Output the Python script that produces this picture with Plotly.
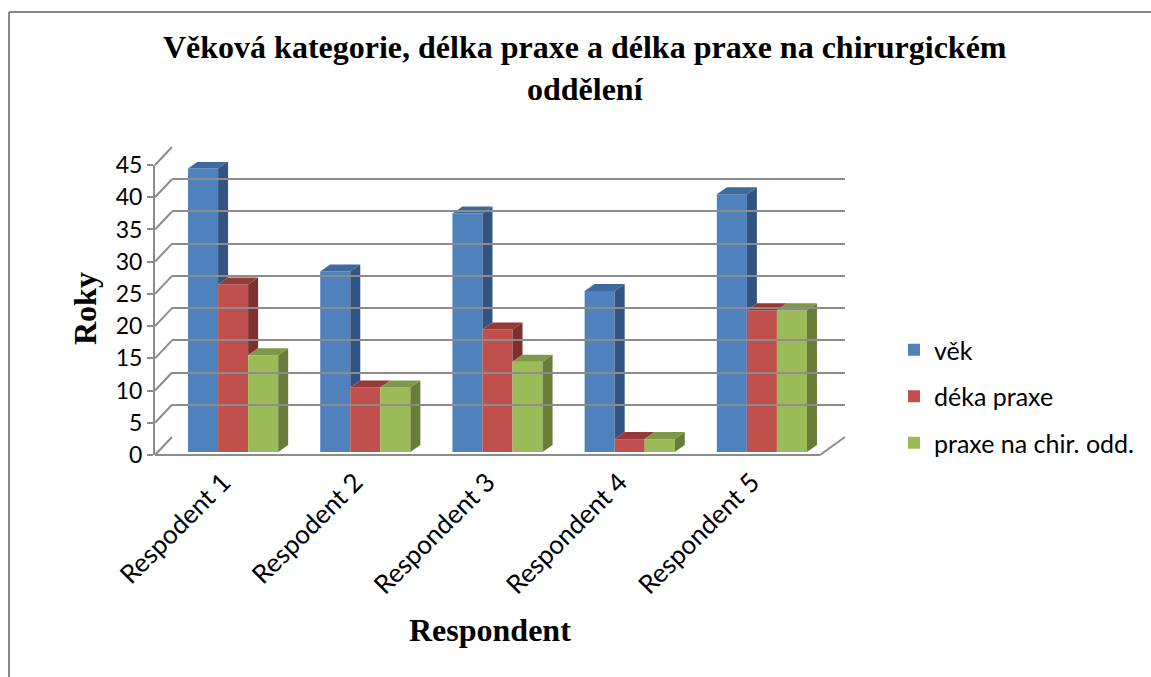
import plotly.graph_objects as go

# ---------------- data ----------------
categories = ["Respodent 1", "Respodent 2", "Respondent 3", "Respondent 4", "Respondent 5"]
series_names = ["věk", "déka praxe", "praxe na chir. odd."]
vek = [44, 28, 37, 25, 40]
deka_praxe = [26, 10, 19, 2, 22]
praxe_chir = [15, 10, 14, 2, 22]
y_ticks = [0, 5, 10, 15, 20, 25, 30, 35, 40, 45]

title_text = "Věková kategorie, délka praxe a délka praxe na chirurgickém<br>oddělení"
y_title = "Roky"
x_title = "Respondent"

# ---------------- style ----------------
W, H = 1151, 677
front_col = ["#4F81BD", "#C0504D", "#9BBB59"]
side_col = ["#335480", "#7D302E", "#677D3A"]
top_col = ["#3F6A9E", "#963A37", "#7D9947"]
grid_col = "#8C8C8C"
label_font = "Lato"
serif = "Liberation Serif"

def fx(p):
    return p / W

def fy(p):
    return 1 - p / H

# geometry of the pseudo-3D box (pixels)
FX0, FX1 = 155, 820      # front floor edge
BX0, BX1 = 172, 845      # back wall
FY0, FY1 = 455, 165      # front axis (0 .. 45)
BY0, BY1 = 437, 147      # back wall (0 .. 45)
BAR_X0, BAR_X1 = 167, 828
BAR_Y0, BAR_Y1 = 452, 162
LABEL_SHIFT_X = 10
LABEL_SHIFT_Y = 9
YMAX = 45
n = len(categories)
bar_w = 0.2273
px_per_xunit = (BAR_X1 - BAR_X0) / n
px_per_yunit = (BAR_Y0 - BAR_Y1) / YMAX
dx = 10 / px_per_xunit
dy = 7 / px_per_yunit

series = [vek, deka_praxe, praxe_chir]
fig = go.Figure()

# front faces
for i, (name, vals) in enumerate(zip(series_names, series)):
    fig.add_trace(go.Bar(
        x=list(range(n)), y=vals, name=name, width=bar_w,
        offset=(i - 1.5) * bar_w, marker=dict(color=front_col[i], line=dict(width=0)),
        legendgroup=name, xaxis="x", yaxis="y",
    ))

# side and top faces
for i, vals in enumerate(series):
    sx, sy, tx, ty = [], [], [], []
    for j, v in enumerate(vals):
        xl = j + (i - 1.5) * bar_w
        xr = j + (i - 0.5) * bar_w
        nv = series[i + 1][j] if i + 1 < len(series) else 0
        if v > nv:
            sx += [xr, xr + dx, xr + dx, xr, xr, None]
            sy += [nv, nv + dy, v + dy, v, nv, None]
        tx += [xl, xr, xr + dx, xl + dx, xl, None]
        ty += [v, v, v + dy, v + dy, v, None]
    fig.add_trace(go.Scatter(x=sx, y=sy, fill="toself", fillcolor=side_col[i], mode="lines",
                             line=dict(width=0), showlegend=False, hoverinfo="skip",
                             xaxis="x", yaxis="y"))
    fig.add_trace(go.Scatter(x=tx, y=ty, fill="toself", fillcolor=top_col[i], mode="lines",
                             line=dict(width=0), showlegend=False, hoverinfo="skip",
                             xaxis="x", yaxis="y"))

# helper traces so the wall / front / label axes are drawn
fig.add_trace(go.Scatter(x=[None], y=[None], xaxis="x2", yaxis="y2", showlegend=False))
fig.add_trace(go.Scatter(x=[None], y=[None], xaxis="x3", yaxis="y3", showlegend=False))
fig.add_trace(go.Scatter(x=[None], y=[None], xaxis="x4", yaxis="y", showlegend=False))

shapes = []
# diagonal connectors of gridlines
for v in y_ticks:
    yf = FY0 - v * (FY0 - FY1) / YMAX
    yb = BY0 - v * (BY0 - BY1) / YMAX
    shapes.append(dict(type="line", xref="paper", yref="paper",
                       x0=fx(FX0), y0=fy(yf), x1=fx(BX0), y1=fy(yb),
                       line=dict(color=grid_col, width=2)))
# floor front & right edges
shapes.append(dict(type="line", xref="paper", yref="paper", x0=fx(FX0), y0=fy(FY0),
                   x1=fx(FX1), y1=fy(FY0), line=dict(color=grid_col, width=2)))
shapes.append(dict(type="line", xref="paper", yref="paper", x0=fx(FX1), y0=fy(FY0),
                   x1=fx(BX1), y1=fy(BY0), line=dict(color=grid_col, width=2)))
# chart frame
shapes.append(dict(type="line", xref="paper", yref="paper", x0=fx(9), y0=fy(12),
                   x1=fx(W), y1=fy(12), line=dict(color="#868686", width=2)))
shapes.append(dict(type="line", xref="paper", yref="paper", x0=fx(9), y0=fy(12),
                   x1=fx(9), y1=fy(H + 5), line=dict(color="#868686", width=2)))

fig.update_layout(
    template="none",
    width=W, height=H,
    margin=dict(l=0, r=0, t=0, b=0, autoexpand=False),
    paper_bgcolor="white", plot_bgcolor="rgba(0,0,0,0)",
    barmode="overlay",
    showlegend=True,
    xaxis=dict(domain=[fx(BAR_X0), fx(BAR_X1)], range=[-0.5, n - 0.5], anchor="y",
               visible=False, automargin=False),
    xaxis4=dict(domain=[fx(BAR_X0 - LABEL_SHIFT_X), fx(BAR_X1 - LABEL_SHIFT_X)],
                range=[-0.5, n - 0.5], anchor="free", position=fy(BAR_Y0 + LABEL_SHIFT_Y),
                tickvals=list(range(n)), ticktext=categories, tickangle=-45,
                showgrid=False, zeroline=False, showline=False, ticks="", automargin=False,
                tickfont=dict(family=label_font, size=26, color="black")),
    yaxis=dict(domain=[fy(BAR_Y0), fy(BAR_Y1)], range=[0, YMAX], anchor="x",
               visible=False, automargin=False),
    xaxis2=dict(domain=[fx(BX0), fx(BX1)], range=[0, 1], anchor="y2", visible=False,
                automargin=False),
    yaxis2=dict(domain=[fy(BY0), fy(BY1)], range=[0, YMAX], anchor="x2",
                tickvals=y_ticks, showticklabels=False, ticks="", showgrid=True,
                gridcolor=grid_col, gridwidth=2, zeroline=False, showline=False,
                automargin=False),
    xaxis3=dict(domain=[fx(FX0), fx(FX1)], range=[0, 1], anchor="y3", visible=False,
                automargin=False),
    yaxis3=dict(domain=[fy(FY0), fy(FY1)], range=[0, YMAX], anchor="x3",
                tickvals=y_ticks, ticks="outside", ticklen=6, tickcolor=grid_col, tickwidth=2,
                showline=True, linecolor=grid_col, linewidth=2, showgrid=False, zeroline=False,
                automargin=False,
                tickfont=dict(family=label_font, size=23, color="black")),
    legend=dict(x=fx(894), y=fy(327), xanchor="left", yanchor="top",
                font=dict(family=label_font, size=25, color="black"),
                tracegroupgap=11, bgcolor="rgba(0,0,0,0)"),
    annotations=[
        dict(text=title_text, xref="paper", yref="paper", x=fx(585), y=fy(68),
             xanchor="center", yanchor="middle", showarrow=False,
             font=dict(family=serif, size=32, color="black", weight="bold")),
        dict(text=y_title, xref="paper", yref="paper", x=fx(85), y=fy(309),
             xanchor="center", yanchor="middle", showarrow=False, textangle=-90,
             font=dict(family=serif, size=32, color="black", weight="bold")),
        dict(text=x_title, xref="paper", yref="paper", x=fx(490), y=fy(630),
             xanchor="center", yanchor="middle", showarrow=False,
             font=dict(family=serif, size=32, color="black", weight="bold")),
    ],
    shapes=shapes,
)

fig.write_html("out.html")
